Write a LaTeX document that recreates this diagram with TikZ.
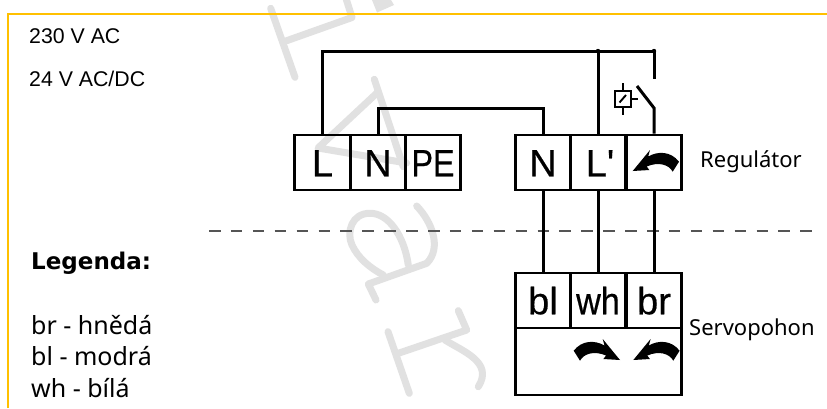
\documentclass[tikz,border=0pt]{standalone}
\usepackage{fontspec}
\usepackage{graphicx}
\setmainfont{Liberation Sans}
\newfontfamily\legfont{Noto Sans}
\newfontfamily\boldleg{DejaVu Sans}
\newfontfamily\cellfont[FakeBold=0.5]{Liberation Sans}
\definecolor{frameyellow}{HTML}{FFC000}
\definecolor{markgray}{HTML}{E1E1E1}
\definecolor{dashgray}{HTML}{555555}
\newcommand{\curvedarrow}{(0,0) -- (17.3,-21) -- (15.5,-14.5) .. controls (25,-20) and (38,-20) .. (46.3,-9.3) -- (40,0.7) .. controls (36,-6.5) and (26,-9.5) .. (14,-4.5) -- (16.6,-1) -- cycle}
\tikzset{
  wire/.style={line width=3pt,line join=miter},
  cell/.style={draw,line width=2.7pt,inner sep=0pt,font=\cellfont\fontsize{38}{38}\selectfont,text height=27.5pt,text depth=0pt},
  lowcell/.style={cell,minimum width=55.5pt,minimum height=55pt},
  plain/.style={anchor=base west,inner sep=0pt,font=\fontsize{21.3}{21.3}\selectfont},
  side/.style={anchor=base west,inner sep=0pt,font=\legfont\fontsize{22}{22}\selectfont},
  leg/.style={anchor=base west,inner sep=0pt,font=\legfont\fontsize{25}{25}\selectfont},
  watermark/.style={draw=markgray,line width=7pt,line cap=round,line join=round},
  thin wire/.style={line width=1.9pt}
}
\begin{document}
\begin{tikzpicture}[x=1pt,y=-1pt]
\useasboundingbox (0,0) rectangle (827,408);
\fill[white] (0,0) rectangle (827,408);
% watermark
\draw[watermark] (270.7,8.3) -- (295,77.3);
\draw[watermark] (286.7,40.7) -- (352,17.5) -- (344,-8);
\fill[markgray] (372,0) -- (391,0) -- (394,5) -- (377,12.5) -- cycle;
\draw[watermark] (374.3,79.3) -- (403.3,166.7);
\draw[watermark] (378,92) -- (318,148) -- (406.7,163);
\draw[watermark] (416.7,206) .. controls (432,222) and (442,248) .. (426.7,263.3) -- (368.3,284) -- (376,300);
\draw[watermark] (408.3,265) .. controls (404,235) and (388,213) .. (370,213.3) .. controls (352,213) and (346,232) .. (352,245) .. controls (358,258) and (370,268) .. (383.3,275);
\draw[watermark] (388,331.7) -- (409.3,393.3);
\draw[watermark] (398.3,353.3) -- (466.7,330) -- (458.3,310.7);
\draw[watermark] (445,340) .. controls (462,351) and (494,362) .. (478.3,386.7);
% frame
\draw[frameyellow,line width=2pt] (8.3,408) -- (8.3,13.7) -- (827,13.7);
% texts
\node[plain] (t230) at (29,43.3) {230 V AC};
\node[plain] (t24) at (29,86.7) {24 V AC/DC};
\node[anchor=base west,inner sep=0pt,font=\boldleg\bfseries\fontsize{23}{23}\selectfont] (legend) at (31,269) {Legenda:};
\node[leg] (lbr) at (31,334) {br - hnědá};
\node[leg] (lbl) at (31,365.7) {bl - modrá};
\node[leg] (lwh) at (31,397) {wh - bílá};
\node[side] (reg) at (700,167.7) {Regulátor};
\node[side] (servo) at (689,335) {Servopohon};
% dashed separator
\coordinate (dashL) at (209,231);
\coordinate (dashR) at (815,231);
\draw[dashgray,line width=1.3pt,dash pattern=on 11.5pt off 10.4pt] (dashL) -- (dashR);
% terminal blocks
\node[cell,minimum width=56.5pt,minimum height=55pt] (L) at (322.5,162.5) {L};
\node[cell,minimum width=54.5pt,minimum height=55pt] (N) at (378,162.5) {N};
\node[cell,minimum width=55.5pt,minimum height=55pt] (PE) at (433,162.5) {\scalebox{0.85}[1]{PE}};
\node[lowcell] (N2) at (543,162.5) {N};
\node[lowcell] (Lp) at (598,162.5) {\hspace{4pt}L\textquotesingle};
\node[lowcell] (R) at (654,162.5) {};
\coordinate (regtip) at ([shift={(-21.3,8.5)}]R.center);
\fill[shift={(regtip)}] \curvedarrow;
\node[lowcell] (bl) at (543,300.5) {bl};
\node[lowcell] (wh) at (598,300.5) {\scalebox{0.9}[1]{wh}};
\node[lowcell] (br) at (654,300.5) {br};
\node[draw,line width=2.7pt,inner sep=0pt,minimum width=166.5pt,minimum height=67pt] (base) at (598.5,361.5) {};
\coordinate (tipA) at (620,360);
\coordinate (tipB) at (633.3,360);
\fill[shift={(tipA)},xscale=-1] \curvedarrow;
\fill[shift={(tipB)}] \curvedarrow;
% wiring
\coordinate (jL) at (598,51);
\coordinate (jS) at (654,51);
\coordinate (swTop) at (654,79);
\coordinate (swFree) at (637,86);
\coordinate (swPivot) at (654,108);
\coordinate (nTop) at (378,108);
\draw[wire] (L.north) |- (jL) -- (jS) -- (swTop);
\draw[wire] (jL) -- (Lp.north);
\fill (jL) circle (2.2pt);
\fill (jS) circle (2.2pt);
\draw[wire] (swFree) -- (swPivot) -- (R.north);
\draw[wire] (N.north) |- (nTop) -| (N2.north);
\draw[wire] (N2.south) -- (bl.north);
\draw[wire] (Lp.south) -- (wh.north);
\draw[wire] (R.south) -- (br.north);
% relay coil
\node[draw,thin wire,inner sep=0pt,minimum size=15.5pt] (coil) at (623,99) {};
\coordinate (coilUp) at (623,83);
\coordinate (coilDown) at (623,114.5);
\coordinate (coilOut) at (638,99);
\draw[thin wire] (coilUp) -- (coil.north);
\draw[thin wire] (coilDown) -- (coil.south);
\draw[thin wire] (coilOut) -- (coil.east);
\draw[thin wire] ([shift={(-3.5,3.5)}]coil.center) -- ([shift={(3,-4)}]coil.center);
\end{tikzpicture}
\end{document}
